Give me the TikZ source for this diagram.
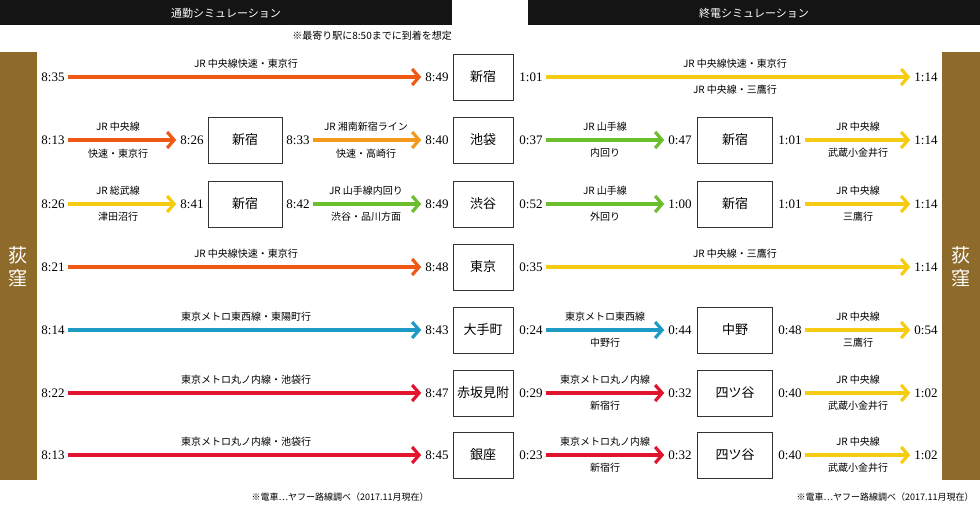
\documentclass[tikz,border=0pt]{standalone}
\usepackage{fontspec}
\setmainfont{Liberation Serif}
\newfontfamily\jp{Noto Sans CJK JP}
\usetikzlibrary{arrows.meta}
\definecolor{cOr}{HTML}{EE5A16}
\definecolor{cOr2}{HTML}{F39A1E}
\definecolor{cYe}{HTML}{F6CC12}
\definecolor{cGr}{HTML}{6DBE2C}
\definecolor{cBl}{HTML}{1E9AC4}
\definecolor{cRe}{HTML}{E3132F}
\definecolor{cBr}{HTML}{8E6B2A}
\tikzset{
 arr/.style={line width=3.2pt,shorten <=2pt,shorten >=3pt,-{Straight Barb[length=7pt,width=16pt,line width=3.2pt]}},
 tm/.style={font=\fontsize{13}{15}\selectfont, inner sep=1pt},
 lb/.style={font=\jp\fontsize{10}{12}\selectfont, inner sep=0pt},
 stn/.style={draw=black!80, line width=0.7pt, minimum height=46pt, font=\jp\fontsize{13}{15}\selectfont},
 sbox/.style={stn, minimum width=60pt},
 mbox/.style={stn, minimum width=75pt},
}
\begin{document}
\begin{tikzpicture}[x=1pt,y=-1pt]
\useasboundingbox (0,0) rectangle (980,505);
\fill[black!92] (0,0) rectangle (452,25);
\fill[black!92] (528,0) rectangle (980,25);
\node[font=\jp\fontsize{11}{13}\selectfont, text=white] (t1) at (226,13) {通勤シミュレーション};
\node[font=\jp\fontsize{11}{13}\selectfont, text=white] (t2) at (754,13) {終電シミュレーション};
\node[lb, anchor=east] (n1) at (452,36) {※最寄り駅に8:50までに到着を想定};
\fill[cBr] (0,52) rectangle (37,480);
\fill[cBr] (942,52) rectangle (980,480);
\node[font=\jp\fontsize{19}{23}\selectfont, text=white, align=center] (o1) at (18,267) {荻\\窪};
\node[font=\jp\fontsize{19}{23}\selectfont, text=white, align=center] (o2) at (961,267) {荻\\窪};
\node[lb, font=\jp\fontsize{9}{11}\selectfont] (f1) at (340,497) {※電車…ヤフー路線調べ（2017.11月現在）};
\node[lb, font=\jp\fontsize{9}{11}\selectfont] (f2) at (885,497) {※電車…ヤフー路線調べ（2017.11月現在）};
\newcommand\longL[7]{%
 \node[tm] (d#7) at (53,#1) {#2};
 \node[tm] (a#7) at (437,#1) {#3};
 \node[sbox] (s#7) at (483,#1) {#4};
 \draw[arr,#5] (d#7.east) -- (a#7.west);
 \node[lb] at (246,#1-13) {#6};}
\longL{77}{8:35}{8:49}{新宿}{cOr}{JR 中央線快速・東京行}{A}
\longL{267}{8:21}{8:48}{東京}{cOr}{JR 中央線快速・東京行}{D}
\longL{330}{8:14}{8:43}{大手町}{cBl}{東京メトロ東西線・東陽町行}{E}
\longL{393}{8:22}{8:47}{赤坂見附}{cRe}{東京メトロ丸ノ内線・池袋行}{F}
\longL{455}{8:13}{8:45}{銀座}{cRe}{東京メトロ丸ノ内線・池袋行}{G}
\node[tm] (dB) at (53,140) {8:13};
\node[tm] (bB) at (192,140) {8:26};
\node[mbox, minimum width=74pt] (mB) at (245,140) {新宿};
\node[tm] (cB) at (298,140) {8:33};
\node[tm] (aB) at (437,140) {8:40};
\node[sbox] (sB) at (483,140) {池袋};
\draw[arr,cOr] (dB.east) -- (bB.west);
\draw[arr,cOr2] (cB.east) -- (aB.west);
\node[lb] at (118,127) {JR 中央線};
\node[lb] at (118,154) {快速・東京行};
\node[lb] at (366,127) {JR 湘南新宿ライン};
\node[lb] at (366,154) {快速・高崎行};
\node[tm] (dC) at (53,204) {8:26};
\node[tm] (bC) at (192,204) {8:41};
\node[mbox, minimum width=74pt] (mC) at (245,204) {新宿};
\node[tm] (cC) at (298,204) {8:42};
\node[tm] (aC) at (437,204) {8:49};
\node[sbox] (sC) at (483,204) {渋谷};
\draw[arr,cYe] (dC.east) -- (bC.west);
\draw[arr,cGr] (cC.east) -- (aC.west);
\node[lb] at (118,191) {JR 総武線};
\node[lb] at (118,217) {津田沼行};
\node[lb] at (366,191) {JR 山手線内回り};
\node[lb] at (366,217) {渋谷・品川方面};
\node[tm] (rA0) at (531,77) {1:01};
\node[tm] (rA1) at (926,77) {1:14};
\draw[arr,cYe] (rA0.east) -- (rA1.west);
\node[lb] at (735,64) {JR 中央線快速・東京行};
\node[lb] at (735,90) {JR 中央線・三鷹行};
\node[tm] (rD0) at (531,267) {0:35};
\node[tm] (rD1) at (926,267) {1:14};
\draw[arr,cYe] (rD0.east) -- (rD1.west);
\node[lb] at (735,254) {JR 中央線・三鷹行};
\newcommand\twoR[9]{%
 \node[tm] (p#1) at (531,#1) {#2};
 \node[tm] (q#1) at (680,#1) {#3};
 \node[mbox] (m#1) at (735,#1) {#4};
 \node[tm] (r#1) at (790,#1) {#5};
 \node[tm] (u#1) at (926,#1) {#6};
 \draw[arr,#7] (p#1.east) -- (q#1.west);
 \node[lb] at (605,#1-13) {#8};
 \node[lb] at (605,#1+13) {#9};}
\newcommand\twoRb[3]{%
 \draw[arr,cYe] (r#1.east) -- (u#1.west);
 \node[lb] at (858,#1-13) {#2};
 \node[lb] at (858,#1+13) {#3};}
\twoR{140}{0:37}{0:47}{新宿}{1:01}{1:14}{cGr}{JR 山手線}{内回り}
\twoRb{140}{JR 中央線}{武蔵小金井行}
\twoR{204}{0:52}{1:00}{新宿}{1:01}{1:14}{cGr}{JR 山手線}{外回り}
\twoRb{204}{JR 中央線}{三鷹行}
\twoR{330}{0:24}{0:44}{中野}{0:48}{0:54}{cBl}{東京メトロ東西線}{中野行}
\twoRb{330}{JR 中央線}{三鷹行}
\twoR{393}{0:29}{0:32}{四ツ谷}{0:40}{1:02}{cRe}{東京メトロ丸ノ内線}{新宿行}
\twoRb{393}{JR 中央線}{武蔵小金井行}
\twoR{455}{0:23}{0:32}{四ツ谷}{0:40}{1:02}{cRe}{東京メトロ丸ノ内線}{新宿行}
\twoRb{455}{JR 中央線}{武蔵小金井行}
\end{tikzpicture}
\end{document}
